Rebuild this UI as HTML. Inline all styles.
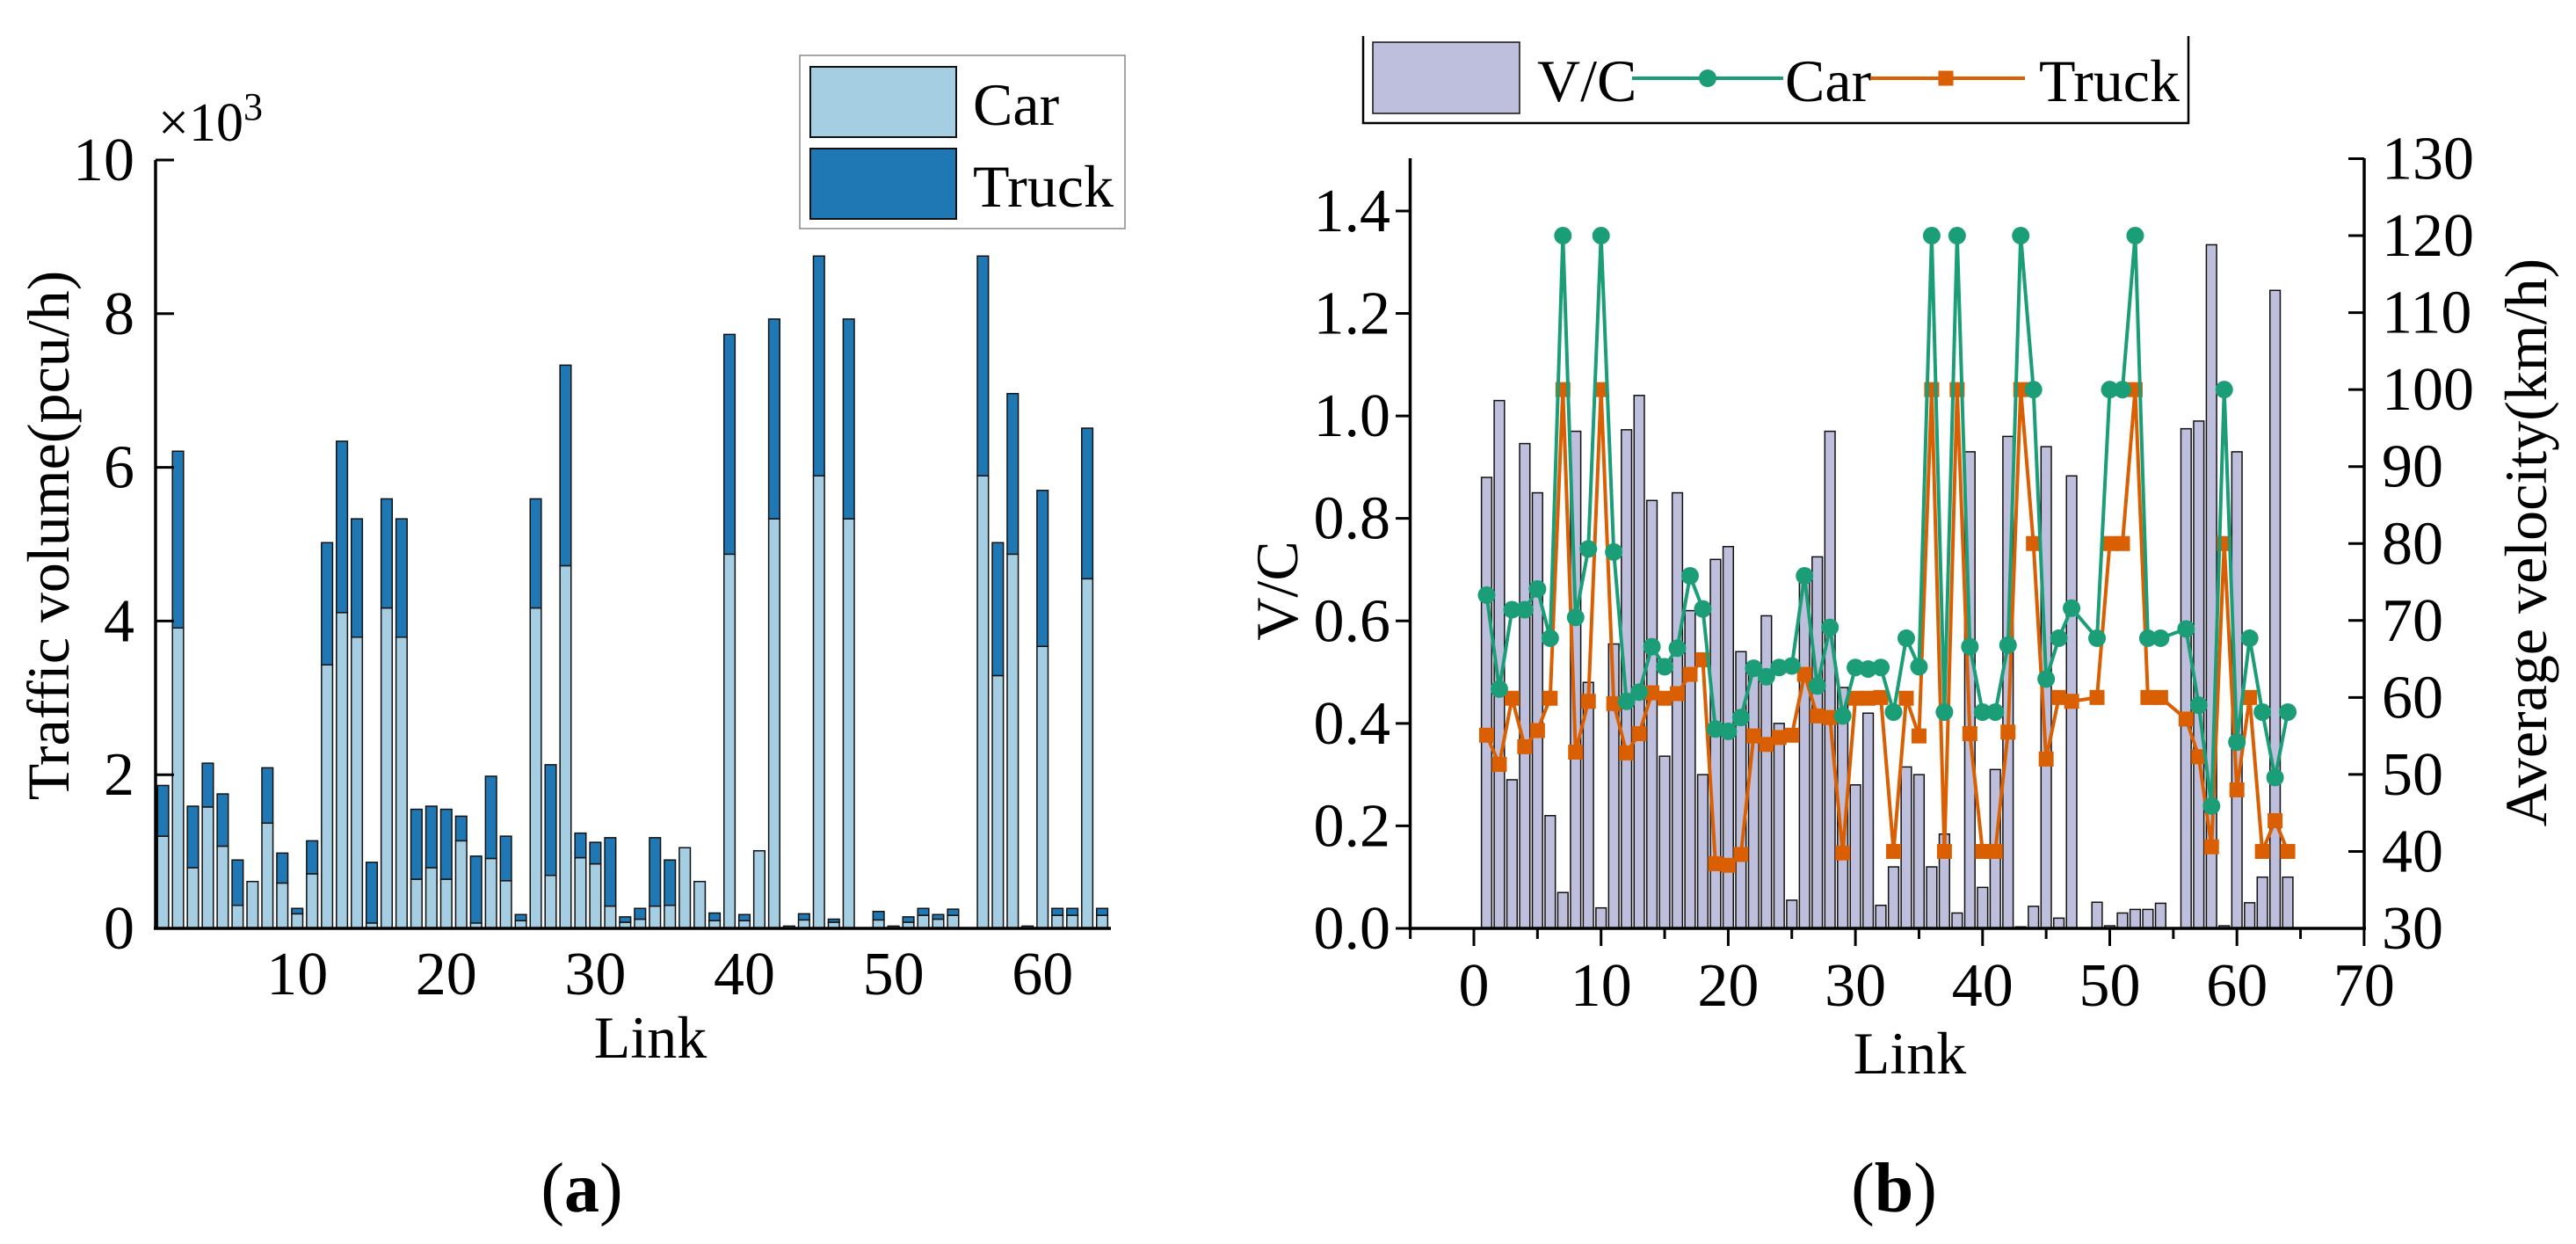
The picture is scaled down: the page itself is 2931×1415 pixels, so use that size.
<!DOCTYPE html>
<html><head><meta charset="utf-8"><style>
html,body{margin:0;padding:0;background:#fff;}
svg{display:block;font-family:"Liberation Serif",serif;}
</style></head>
<body>
<svg id="fig" width="2931" height="1415" viewBox="0 0 2931 1415" xmlns="http://www.w3.org/2000/svg">
<g id="chartA"></g>
<g id="chartB"></g>
</svg>
<script>
// ---- Chart (a) data (x10^3 pcu/h) ----
const linksA = Array.from({length:64},(_,i)=>i+1);
const carVol = [1.20,3.91,0.79,1.58,1.07,0.30,0.61,1.37,0.59,0.19,0.71,3.43,4.11,3.79,0.07,4.17,3.79,0.64,0.79,0.64,1.14,0.07,0.91,0.62,0.10,4.17,0.69,4.72,0.92,0.84,0.29,0.08,0.12,0.29,0.30,1.05,0.61,0.10,4.87,0.10,1.01,5.33,0.03,0.11,5.89,0.08,5.33,0,0.11,0.03,0.08,0.17,0.12,0.17,0,5.89,3.29,4.87,0.03,3.67,0.17,0.17,4.55,0.17];
const truckVol = [0.66,2.30,0.80,0.57,0.68,0.59,0,0.72,0.39,0.07,0.43,1.59,2.23,1.54,0.79,1.42,1.54,0.91,0.80,0.91,0.32,0.87,1.07,0.58,0.08,1.42,1.44,2.61,0.32,0.28,0.89,0.07,0.14,0.89,0.59,0,0,0.10,2.86,0.08,0,2.60,0,0.08,2.86,0.04,2.60,0,0.11,0,0.07,0.09,0.06,0.08,0,2.86,1.73,2.09,0,2.03,0.09,0.09,1.96,0.09];
const yTicksA = [0,2,4,6,8,10];
const xTicksA = [10,20,30,40,50,60];

// ---- Chart (b) data ----
const linksB = Array.from({length:64},(_,i)=>i+1);
const vcRatio = [0.88,1.03,0.29,0.946,0.85,0.22,0.07,0.97,0.48,0.04,0.555,0.973,1.04,0.835,0.336,0.85,0.62,0.30,0.72,0.745,0.54,0.50,0.61,0.40,0.055,0.68,0.725,0.97,0.47,0.28,0.42,0.045,0.12,0.315,0.30,0.12,0.184,0.03,0.93,0.08,0.31,0.96,0.003,0.043,0.94,0.02,0.883,null,0.051,0.005,0.03,0.037,0.037,0.049,null,0.975,0.99,1.334,0.005,0.93,0.05,0.10,1.245,0.10];
const carSpeed = [73.3,61.1,71.4,71.4,74.1,67.7,120,70.4,79.3,120,78.9,59.5,60.7,66.6,64,66.4,75.8,71.5,55.9,55.6,57.4,63.8,62.7,63.9,64.1,75.8,61.5,69.1,57.6,63.9,63.7,63.9,58.1,67.7,64,120,58.1,120,66.6,58.1,58.1,66.8,120,100,62.4,67.7,71.6,null,67.7,100,100,120,67.7,67.7,null,68.9,59,45.9,100,54.2,67.7,58.1,49.6,58.1];
const truckSpeed = [55.1,51.3,59.9,53.6,55.7,59.9,100,52.9,59.5,100,59.2,52.8,55.3,60.6,59.9,60.5,63,64.9,38.4,38.2,39.6,55,53.9,54.8,55.1,63,57.6,57.4,39.8,59.9,59.9,60,40,59.9,55,100,40,100,55.3,40,40,55.5,100,80,52,60,59.5,null,60,80,80,100,60,60,null,57.2,52.3,40.6,80,48,60,40,44,40];
const vcTicks = [0,0.2,0.4,0.6,0.8,1.0,1.2,1.4];
const speedTicks = [30,40,50,60,70,80,90,100,110,120,130];
const xTicksB = [0,10,20,30,40,50,60,70];

const NS="http://www.w3.org/2000/svg";
function mk(tag,attrs,parent,text){const e=document.createElementNS(NS,tag);for(const k in attrs)e.setAttribute(k,attrs[k]);if(text!==undefined)e.textContent=text;parent.appendChild(e);return e;}
const TF=70;

// ===== Chart A =====
const A=document.getElementById('chartA');
const xA=l=>168.6+l*16.96;
const yA=v=>1056-v*87.4;
const bwA=12.6;
linksA.forEach((l,i)=>{
  const c=carVol[i], t=truckVol[i];
  if(c+t<=0) return;
  const r1=mk('rect',{x:xA(l)-bwA/2,y:yA(c),width:bwA,height:yA(0)-yA(c),fill:'#a6cee3',stroke:'#111','stroke-width':1.5},A);
  
  
  if(t>0){
    const r2=mk('rect',{x:xA(l)-bwA/2,y:yA(c+t),width:bwA,height:yA(c)-yA(c+t),fill:'#1f78b4',stroke:'#111','stroke-width':1.5},A);
    
    
  }
});
let e;
e=mk('line',{x1:177,y1:182,x2:177,y2:1057,stroke:'#000','stroke-width':3.5},A);


e=mk('line',{x1:175,y1:1056,x2:1264,y2:1056,stroke:'#000','stroke-width':3.5},A);


yTicksA.forEach(v=>{
  mk('line',{x1:177,y1:yA(v),x2:198,y2:yA(v),stroke:'#000','stroke-width':3},A);
  e=mk('text',{x:153,y:yA(v)+23,'text-anchor':'end','font-size':TF},A,String(v));
  
  
});
xTicksA.forEach(v=>{
  e=mk('text',{x:xA(v),y:1131,'text-anchor':'middle','font-size':TF},A,String(v));
  
  
});
e=mk('text',{x:180,y:160,'font-size':62},A,'×10');


mk('tspan',{dy:-24,'font-size':44},e,'3');
e=mk('text',{x:0,y:0,'text-anchor':'middle','font-size':68,transform:'translate(78,609) rotate(-90)'},A,'Traffic volume(pcu/h)');


e=mk('text',{x:740,y:1203,'text-anchor':'middle','font-size':68},A,'Link');


e=mk('text',{x:662,y:1378,'text-anchor':'middle','font-size':80},A,'(');


mk('tspan',{'font-weight':'bold'},e,'a');mk('tspan',{},e,')');
// legend A
const LA=mk('g',{},A);


mk('rect',{x:910,y:63,width:370,height:197,fill:'#fff',stroke:'#888','stroke-width':1.5},LA);
e=mk('rect',{x:922,y:76,width:166,height:80,fill:'#a6cee3',stroke:'#111','stroke-width':2},LA);


e=mk('rect',{x:922,y:169,width:166,height:80,fill:'#1f78b4',stroke:'#111','stroke-width':2},LA);


e=mk('text',{x:1107,y:142,'font-size':68},LA,'Car');


e=mk('text',{x:1107,y:235,'font-size':68},LA,'Truck');



// ===== Chart B =====
const B=document.getElementById('chartB');
const xB=l=>1677+l*14.47;
const yL=v=>1056-v*582.9;
const yR=v=>1056-(v-30)*8.755;
const bwB=11.7;
linksB.forEach((l,i)=>{
  const v=vcRatio[i]; if(v==null) return;
  const r=mk('rect',{x:xB(l)-bwB/2,y:yL(v),width:bwB,height:yL(0)-yL(v),fill:'#bebfdd',stroke:'#111','stroke-width':1.5},B);
  
  
});
function series(vals,color,name,marker){
  const pts=[];vals.forEach((v,i)=>{if(v!=null)pts.push([xB(linksB[i]),yR(v)]);});
  const p=mk('polyline',{points:pts.map(p=>p.join(',')).join(' '),fill:'none',stroke:color,'stroke-width':4},B);
  
  
  pts.forEach(([x,y])=>{
    let m;
    if(marker==='circle') m=mk('circle',{cx:x,cy:y,r:10,fill:color},B);
    else m=mk('rect',{x:x-8.5,y:y-8.5,width:17,height:17,fill:color},B);
    
    
  });
}
series(truckSpeed,'#d95f02','truck-speed','square');
series(carSpeed,'#1b9e77','car-speed','circle');
e=mk('line',{x1:1604.5,y1:180,x2:1604.5,y2:1058,stroke:'#000','stroke-width':3.5},B);


e=mk('line',{x1:2690,y1:180,x2:2690,y2:1058,stroke:'#000','stroke-width':3.5},B);


e=mk('line',{x1:1603,y1:1056,x2:2692,y2:1056,stroke:'#000','stroke-width':3.5},B);


vcTicks.forEach(v=>{
  mk('line',{x1:1588,y1:yL(v),x2:1604.5,y2:yL(v),stroke:'#000','stroke-width':3},B);
  e=mk('text',{x:1582,y:yL(v)+23,'text-anchor':'end','font-size':TF},B,v.toFixed(1));
  
  
});
speedTicks.forEach(v=>{
  mk('line',{x1:2672,y1:yR(v),x2:2690,y2:yR(v),stroke:'#000','stroke-width':3},B);
  e=mk('text',{x:2710,y:yR(v)+23,'font-size':TF},B,String(v));
  
  
});
for(let t=-5;t<=70;t+=5){
  mk('line',{x1:xB(t),y1:1056,x2:xB(t),y2:t%10===0?1076:1068,stroke:'#000','stroke-width':3},B);
}
xTicksB.forEach(v=>{
  e=mk('text',{x:xB(v),y:1144,'text-anchor':'middle','font-size':TF},B,String(v));
  
  
});
e=mk('text',{x:0,y:0,'text-anchor':'middle','font-size':68,transform:'translate(1476,672) rotate(-90)'},B,'V/C');


e=mk('text',{x:0,y:0,'text-anchor':'middle','font-size':68,transform:'translate(2897,617) rotate(-90)'},B,'Average velocity(km/h)');


e=mk('text',{x:2173,y:1221,'text-anchor':'middle','font-size':68},B,'Link');


e=mk('text',{x:2155,y:1378,'text-anchor':'middle','font-size':80},B,'(');


mk('tspan',{'font-weight':'bold'},e,'b');mk('tspan',{},e,')');
// legend B
const LB=mk('g',{},B);


mk('polyline',{points:'1551,41 1551,140 2490,140 2490,41',fill:'none',stroke:'#000','stroke-width':2.5},LB);
e=mk('rect',{x:1562,y:48,width:167,height:81,fill:'#bebfdd',stroke:'#111','stroke-width':1.5},LB);


e=mk('text',{x:1749,y:115,'font-size':68},LB,'V/C');


mk('line',{x1:1857,y1:89,x2:2029,y2:89,stroke:'#1b9e77','stroke-width':4},LB);
mk('circle',{cx:1943,cy:89,r:10,fill:'#1b9e77'},LB);
e=mk('text',{x:2031,y:115,'font-size':68},LB,'Car');


mk('line',{x1:2128,y1:89,x2:2304,y2:89,stroke:'#d95f02','stroke-width':4},LB);
mk('rect',{x:2205.5,y:80.5,width:17,height:17,fill:'#d95f02'},LB);
e=mk('text',{x:2320,y:115,'font-size':68},LB,'Truck');


</script>
</body></html>
